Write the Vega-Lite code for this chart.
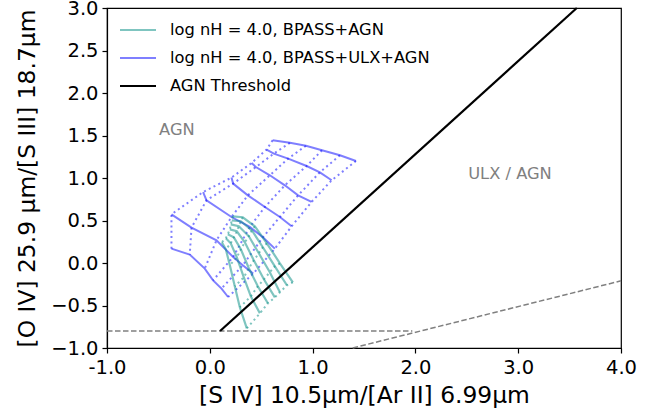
{
  "$schema": "https://vega.github.io/schema/vega-lite/v6.json",
  "width": 514,
  "height": 340,
  "autosize": {"type": "none"},
  "padding": {"left": 107, "top": 8, "right": 39, "bottom": 67},
  "background": "white",
  "config": {
    "font": "DejaVu Sans",
    "view": {"stroke": "black", "strokeWidth": 1.2},
    "axis": {
      "domainColor": "black", "tickColor": "black", "labelColor": "black", "titleColor": "black",
      "labelFontSize": 19.5, "titleFontSize": 23.4, "titleFontWeight": "normal",
      "tickSize": 5, "grid": false, "labelFont": "DejaVu Sans", "titleFont": "DejaVu Sans",
      "domainWidth": 1.2, "tickWidth": 1.2, "labelFlush": false, "labelOverlap": false
    }
  },
  "datasets": {
    "dash": [
      {"g": "h", "x": -1.0, "y": -0.8},
      {"g": "h", "x": 1.97, "y": -0.8},
      {"g": "d", "x": 1.39, "y": -1.0},
      {"g": "d", "x": 4.0, "y": -0.21}
    ],
    "thr": [
      {"s": "THR", "x": 0.1, "y": -0.8},
      {"s": "THR", "x": 3.57, "y": 3.0}
    ],
    "notes": [
      {"t": "AGN", "x": -0.32, "y": 1.56},
      {"t": "ULX / AGN", "x": 2.92, "y": 1.05}
    ],
    "blue": [
      {"s": "ULX", "a": 0, "b": 0, "x": 0.611, "y": 1.444},
      {"s": "ULX", "a": 0, "b": 1, "x": 0.779, "y": 1.414},
      {"s": "ULX", "a": 0, "b": 2, "x": 0.935, "y": 1.379},
      {"s": "ULX", "a": 0, "b": 3, "x": 1.091, "y": 1.326},
      {"s": "ULX", "a": 0, "b": 4, "x": 1.266, "y": 1.267},
      {"s": "ULX", "a": 0, "b": 5, "x": 1.422, "y": 1.200},
      {"s": "ULX", "a": 1, "b": 0, "x": 0.552, "y": 1.334},
      {"s": "ULX", "a": 1, "b": 1, "x": 0.623, "y": 1.287},
      {"s": "ULX", "a": 1, "b": 2, "x": 0.762, "y": 1.228},
      {"s": "ULX", "a": 1, "b": 3, "x": 0.942, "y": 1.141},
      {"s": "ULX", "a": 1, "b": 4, "x": 1.071, "y": 1.067},
      {"s": "ULX", "a": 1, "b": 5, "x": 1.185, "y": 0.973},
      {"s": "ULX", "a": 2, "b": 0, "x": 0.406, "y": 1.176},
      {"s": "ULX", "a": 2, "b": 1, "x": 0.448, "y": 1.129},
      {"s": "ULX", "a": 2, "b": 2, "x": 0.584, "y": 1.032},
      {"s": "ULX", "a": 2, "b": 3, "x": 0.730, "y": 0.914},
      {"s": "ULX", "a": 2, "b": 4, "x": 0.859, "y": 0.796},
      {"s": "ULX", "a": 2, "b": 5, "x": 0.990, "y": 0.718},
      {"s": "ULX", "a": 3, "b": 0, "x": 0.211, "y": 1.005},
      {"s": "ULX", "a": 3, "b": 1, "x": 0.227, "y": 0.934},
      {"s": "ULX", "a": 3, "b": 2, "x": 0.370, "y": 0.796},
      {"s": "ULX", "a": 3, "b": 3, "x": 0.536, "y": 0.659},
      {"s": "ULX", "a": 3, "b": 4, "x": 0.682, "y": 0.541},
      {"s": "ULX", "a": 3, "b": 5, "x": 0.796, "y": 0.432},
      {"s": "ULX", "a": 4, "b": 0, "x": -0.065, "y": 0.835},
      {"s": "ULX", "a": 4, "b": 1, "x": -0.032, "y": 0.738},
      {"s": "ULX", "a": 4, "b": 2, "x": 0.211, "y": 0.541},
      {"s": "ULX", "a": 4, "b": 3, "x": 0.389, "y": 0.424},
      {"s": "ULX", "a": 4, "b": 4, "x": 0.516, "y": 0.302},
      {"s": "ULX", "a": 4, "b": 5, "x": 0.633, "y": 0.169},
      {"s": "ULX", "a": 5, "b": 0, "x": -0.373, "y": 0.573},
      {"s": "ULX", "a": 5, "b": 1, "x": -0.178, "y": 0.416},
      {"s": "ULX", "a": 5, "b": 2, "x": 0.065, "y": 0.267},
      {"s": "ULX", "a": 5, "b": 3, "x": 0.227, "y": 0.071},
      {"s": "ULX", "a": 5, "b": 4, "x": 0.321, "y": -0.027},
      {"s": "ULX", "a": 5, "b": 5, "x": 0.422, "y": -0.125},
      {"s": "ULX", "a": 6, "b": 0, "x": -0.373, "y": 0.169},
      {"s": "ULX", "a": 6, "b": 1, "x": -0.195, "y": 0.099},
      {"s": "ULX", "a": 6, "b": 2, "x": -0.049, "y": -0.066},
      {"s": "ULX", "a": 6, "b": 3, "x": 0.032, "y": -0.204},
      {"s": "ULX", "a": 6, "b": 4, "x": 0.114, "y": -0.301},
      {"s": "ULX", "a": 6, "b": 5, "x": 0.178, "y": -0.400}
    ],
    "teal": [
      {"s": "AGN", "a": 0, "b": 0, "x": 0.224, "y": 0.549},
      {"s": "AGN", "a": 0, "b": 1, "x": 0.321, "y": 0.538},
      {"s": "AGN", "a": 0, "b": 2, "x": 0.438, "y": 0.432},
      {"s": "AGN", "a": 0, "b": 3, "x": 0.555, "y": 0.232},
      {"s": "AGN", "a": 0, "b": 4, "x": 0.682, "y": -0.004},
      {"s": "AGN", "a": 0, "b": 5, "x": 0.808, "y": -0.227},
      {"s": "AGN", "a": 1, "b": 0, "x": 0.214, "y": 0.502},
      {"s": "AGN", "a": 1, "b": 1, "x": 0.302, "y": 0.491},
      {"s": "AGN", "a": 1, "b": 2, "x": 0.409, "y": 0.385},
      {"s": "AGN", "a": 1, "b": 3, "x": 0.516, "y": 0.185},
      {"s": "AGN", "a": 1, "b": 4, "x": 0.633, "y": -0.039},
      {"s": "AGN", "a": 1, "b": 5, "x": 0.750, "y": -0.262},
      {"s": "AGN", "a": 2, "b": 0, "x": 0.204, "y": 0.455},
      {"s": "AGN", "a": 2, "b": 1, "x": 0.282, "y": 0.432},
      {"s": "AGN", "a": 2, "b": 2, "x": 0.380, "y": 0.314},
      {"s": "AGN", "a": 2, "b": 3, "x": 0.477, "y": 0.114},
      {"s": "AGN", "a": 2, "b": 4, "x": 0.584, "y": -0.109},
      {"s": "AGN", "a": 2, "b": 5, "x": 0.682, "y": -0.345},
      {"s": "AGN", "a": 3, "b": 0, "x": 0.195, "y": 0.396},
      {"s": "AGN", "a": 3, "b": 1, "x": 0.263, "y": 0.373},
      {"s": "AGN", "a": 3, "b": 2, "x": 0.341, "y": 0.244},
      {"s": "AGN", "a": 3, "b": 3, "x": 0.428, "y": 0.032},
      {"s": "AGN", "a": 3, "b": 4, "x": 0.526, "y": -0.192},
      {"s": "AGN", "a": 3, "b": 5, "x": 0.633, "y": -0.404},
      {"s": "AGN", "a": 4, "b": 0, "x": 0.175, "y": 0.338},
      {"s": "AGN", "a": 4, "b": 1, "x": 0.234, "y": 0.302},
      {"s": "AGN", "a": 4, "b": 2, "x": 0.302, "y": 0.161},
      {"s": "AGN", "a": 4, "b": 3, "x": 0.380, "y": -0.062},
      {"s": "AGN", "a": 4, "b": 4, "x": 0.467, "y": -0.274},
      {"s": "AGN", "a": 4, "b": 5, "x": 0.565, "y": -0.474},
      {"s": "AGN", "a": 5, "b": 0, "x": 0.156, "y": 0.291},
      {"s": "AGN", "a": 5, "b": 1, "x": 0.204, "y": 0.232},
      {"s": "AGN", "a": 5, "b": 2, "x": 0.263, "y": 0.067},
      {"s": "AGN", "a": 5, "b": 3, "x": 0.331, "y": -0.168},
      {"s": "AGN", "a": 5, "b": 4, "x": 0.399, "y": -0.392},
      {"s": "AGN", "a": 5, "b": 5, "x": 0.487, "y": -0.592},
      {"s": "AGN", "a": 6, "b": 0, "x": 0.117, "y": 0.244},
      {"s": "AGN", "a": 6, "b": 1, "x": 0.156, "y": 0.161},
      {"s": "AGN", "a": 6, "b": 2, "x": 0.195, "y": -0.027},
      {"s": "AGN", "a": 6, "b": 3, "x": 0.243, "y": -0.274},
      {"s": "AGN", "a": 6, "b": 4, "x": 0.292, "y": -0.521},
      {"s": "AGN", "a": 6, "b": 5, "x": 0.360, "y": -0.768}
    ]
  },
  "encoding": {
    "x": {
      "field": "x", "type": "quantitative",
      "scale": {"domain": [-1, 4], "nice": false, "zero": false},
      "axis": {
        "title": "[S IV] 10.5μm/[Ar II] 6.99μm",
        "values": [-1, 0, 1, 2, 3, 4],
        "labelExpr": "replace(format(datum.value, '.1f'), '−', '-')",
        "labelPadding": 5, "titlePadding": 8
      }
    },
    "y": {
      "field": "y", "type": "quantitative",
      "scale": {"domain": [-1, 3], "nice": false, "zero": false},
      "axis": {
        "title": "[O IV] 25.9 μm/[S III] 18.7μm",
        "values": [-1, -0.5, 0, 0.5, 1, 1.5, 2, 2.5, 3],
        "format": ".1f",
        "labelPadding": 4, "titlePadding": 11
      }
    }
  },
  "layer": [
    {
      "data": {"name": "dash"},
      "mark": {"type": "line", "color": "#808080", "strokeWidth": 1.5, "strokeDash": [5.5, 2.5]},
      "encoding": {"detail": {"field": "g"}}
    },
    {
      "data": {"name": "blue"},
      "mark": {"type": "line", "color": "rgba(0,0,255,0.5)", "strokeWidth": 2, "strokeDash": [2, 3.3]},
      "encoding": {"detail": {"field": "b"}, "order": {"field": "a", "type": "quantitative"}}
    },
    {
      "data": {"name": "blue"},
      "mark": {"type": "line", "strokeWidth": 2},
      "encoding": {
        "color": {
          "field": "s", "type": "nominal",
          "scale": {"domain": ["AGN", "ULX", "THR"], "range": ["rgba(0,140,130,0.5)", "rgba(0,0,255,0.5)", "black"]},
          "legend": {
            "orient": "none", "legendX": 12, "legendY": 3, "title": null,
            "symbolType": "stroke", "symbolSize": 1296, "symbolStrokeWidth": 2,
            "labelFontSize": 16.3, "labelFont": "DejaVu Sans", "labelColor": "black", "labelLimit": 500,
            "labelOffset": 13, "rowPadding": -12.8, "padding": 0,
            "labelExpr": "datum.value == 'AGN' ? 'log nH = 4.0, BPASS+AGN' : datum.value == 'ULX' ? 'log nH = 4.0, BPASS+ULX+AGN' : 'AGN Threshold'"
          }
        },
        "detail": {"field": "a"},
        "order": {"field": "b", "type": "quantitative"}
      }
    },
    {
      "data": {"name": "teal"},
      "mark": {"type": "line", "color": "rgba(0,140,130,0.5)", "strokeWidth": 2, "strokeDash": [2, 3.3]},
      "encoding": {"detail": {"field": "b"}, "order": {"field": "a", "type": "quantitative"}}
    },
    {
      "data": {"name": "teal"},
      "mark": {"type": "line", "strokeWidth": 2.2},
      "encoding": {
        "color": {"field": "s", "type": "nominal"},
        "detail": {"field": "a"},
        "order": {"field": "b", "type": "quantitative"}
      }
    },
    {
      "data": {"name": "thr"},
      "mark": {"type": "line", "strokeWidth": 2.2},
      "encoding": {"color": {"field": "s", "type": "nominal"}}
    },
    {
      "data": {"name": "notes"},
      "mark": {"type": "text", "fontSize": 16.3, "color": "#808080", "font": "DejaVu Sans"},
      "encoding": {"text": {"field": "t"}}
    }
  ]
}
